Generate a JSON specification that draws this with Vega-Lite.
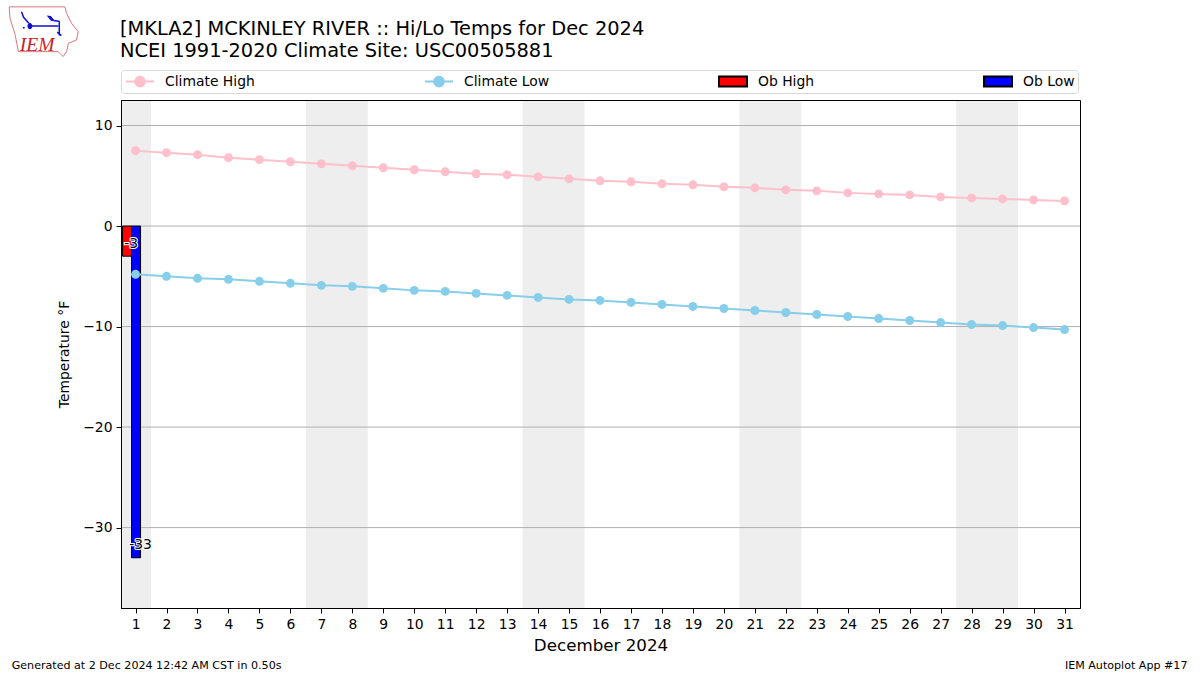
{
"$schema":"https://vega.github.io/schema/vega-lite/v6.json",
"width":959,"height":508,
"autosize":"none",
"padding":{"left":121,"top":100,"right":120,"bottom":67},
"background":"white",
"config":{"font":"DejaVu Sans","view":{"stroke":"black","strokeWidth":1}},
"title":{"text":["[MKLA2] MCKINLEY RIVER :: Hi/Lo Temps for Dec 2024","NCEI 1991-2020 Climate Site: USC00505881"],"anchor":"start","frame":"group","font":"DejaVu Sans","fontSize":19.4,"fontWeight":"normal","lineHeight":22,"offset":-57,"dx":-1,"color":"black"},
"datasets":{
"temps":[
{"day":1,"series":"Climate High","v":7.5},{"day":2,"series":"Climate High","v":7.3},{"day":3,"series":"Climate High","v":7.1},{"day":4,"series":"Climate High","v":6.8},{"day":5,"series":"Climate High","v":6.6},{"day":6,"series":"Climate High","v":6.4},{"day":7,"series":"Climate High","v":6.2},{"day":8,"series":"Climate High","v":6.0},{"day":9,"series":"Climate High","v":5.8},{"day":10,"series":"Climate High","v":5.6},{"day":11,"series":"Climate High","v":5.4},{"day":12,"series":"Climate High","v":5.2},{"day":13,"series":"Climate High","v":5.1},{"day":14,"series":"Climate High","v":4.9},{"day":15,"series":"Climate High","v":4.7},{"day":16,"series":"Climate High","v":4.5},{"day":17,"series":"Climate High","v":4.4},{"day":18,"series":"Climate High","v":4.2},{"day":19,"series":"Climate High","v":4.1},{"day":20,"series":"Climate High","v":3.9},{"day":21,"series":"Climate High","v":3.8},{"day":22,"series":"Climate High","v":3.6},{"day":23,"series":"Climate High","v":3.5},{"day":24,"series":"Climate High","v":3.3},{"day":25,"series":"Climate High","v":3.2},{"day":26,"series":"Climate High","v":3.1},{"day":27,"series":"Climate High","v":2.9},{"day":28,"series":"Climate High","v":2.8},{"day":29,"series":"Climate High","v":2.7},{"day":30,"series":"Climate High","v":2.6},{"day":31,"series":"Climate High","v":2.5},
{"day":1,"series":"Climate Low","v":-4.8},{"day":2,"series":"Climate Low","v":-5.0},{"day":3,"series":"Climate Low","v":-5.2},{"day":4,"series":"Climate Low","v":-5.3},{"day":5,"series":"Climate Low","v":-5.5},{"day":6,"series":"Climate Low","v":-5.7},{"day":7,"series":"Climate Low","v":-5.9},{"day":8,"series":"Climate Low","v":-6.0},{"day":9,"series":"Climate Low","v":-6.2},{"day":10,"series":"Climate Low","v":-6.4},{"day":11,"series":"Climate Low","v":-6.5},{"day":12,"series":"Climate Low","v":-6.7},{"day":13,"series":"Climate Low","v":-6.9},{"day":14,"series":"Climate Low","v":-7.1},{"day":15,"series":"Climate Low","v":-7.3},{"day":16,"series":"Climate Low","v":-7.4},{"day":17,"series":"Climate Low","v":-7.6},{"day":18,"series":"Climate Low","v":-7.8},{"day":19,"series":"Climate Low","v":-8.0},{"day":20,"series":"Climate Low","v":-8.2},{"day":21,"series":"Climate Low","v":-8.4},{"day":22,"series":"Climate Low","v":-8.6},{"day":23,"series":"Climate Low","v":-8.8},{"day":24,"series":"Climate Low","v":-9.0},{"day":25,"series":"Climate Low","v":-9.2},{"day":26,"series":"Climate Low","v":-9.4},{"day":27,"series":"Climate Low","v":-9.6},{"day":28,"series":"Climate Low","v":-9.8},{"day":29,"series":"Climate Low","v":-9.9},{"day":30,"series":"Climate Low","v":-10.1},{"day":31,"series":"Climate Low","v":-10.3}],
"obs":[{"day":1,"series":"Ob High","value":-3},{"day":1,"series":"Ob Low","value":-33}],
"legendkeys":[{"series":"Climate High","day":null,"v":null},{"series":"Climate Low","day":null,"v":null},{"series":"Ob High","day":null,"v":null},{"series":"Ob Low","day":null,"v":null}],
"weekends":[{"start":0.53,"end":1.5},{"start":6.5,"end":8.5},{"start":13.5,"end":15.5},{"start":20.5,"end":22.5},{"start":27.5,"end":29.5}],
"gridlines":[{"t":10},{"t":0},{"t":-10},{"t":-20},{"t":-30}]
},
"layer":[
{"data":{"name":"weekends"},"mark":{"type":"rect","color":"#eeeeee"},
 "encoding":{
  "x":{"field":"start","type":"quantitative","scale":{"domain":[0.53,31.5],"nice":false,"zero":false,"padding":0},
   "axis":{"values":[1,2,3,4,5,6,7,8,9,10,11,12,13,14,15,16,17,18,19,20,21,22,23,24,25,26,27,28,29,30,31],"tickCount":31,"grid":false,"title":"December 2024","titleFontSize":16.7,"titleFontWeight":"normal","titleColor":"black","titlePadding":7,"labelFontSize":13.9,"labelColor":"black","labelPadding":4,"labelFlush":false,"labelOverlap":false,"tickColor":"black","tickSize":5,"domainColor":"black","zindex":1}},
  "x2":{"field":"end"},
  "y":{"datum":-38,"type":"quantitative","scale":{"domain":[-38,12.54],"nice":false,"zero":false,"padding":0},
   "axis":{"values":[10,0,-10,-20,-30],"grid":false,"title":"Temperature °F","titleFontSize":13.9,"titleFontWeight":"normal","titleColor":"black","titlePadding":11,"labelFontSize":13.9,"labelColor":"black","labelPadding":4,"tickColor":"black","tickSize":5,"domainColor":"black","zindex":1,"labelExpr":"replace(datum.label,'-','−')"}},
  "y2":{"datum":12.45}}},
{"data":{"name":"gridlines"},"mark":{"type":"rule","color":"#b0b0b0","strokeWidth":1},"encoding":{"y":{"field":"t","type":"quantitative"}}},
{"data":{"name":"obs"},"mark":{"type":"bar","size":9,"xOffset":{"expr":"datum.series=='Ob High'?-8.5:0.5"},"stroke":"black","strokeWidth":1},
 "encoding":{"x":{"field":"day","type":"quantitative"},"y":{"field":"value","type":"quantitative"},"y2":{"datum":0},
  "fill":{"field":"series","type":"nominal","scale":{"domain":["Climate High","Climate Low","Ob High","Ob Low"],"range":["pink","skyblue","red","blue"]}}}},
{"data":{"name":"temps"},"mark":{"type":"line","strokeWidth":2},
 "encoding":{"x":{"field":"day","type":"quantitative"},"y":{"field":"v","type":"quantitative"},
  "stroke":{"field":"series","type":"nominal","scale":{"domain":["Climate High","Climate Low","Ob High","Ob Low"],"range":["pink","skyblue","black","black"]}}}},
{"data":{"name":"temps"},"mark":{"type":"point","filled":true,"size":80,"opacity":1},
 "encoding":{"x":{"field":"day","type":"quantitative"},"y":{"field":"v","type":"quantitative"},
  "fill":{"field":"series","type":"nominal"}}},
{"data":{"name":"legendkeys"},"mark":{"type":"point","opacity":1},
 "encoding":{"x":{"field":"day","type":"quantitative"},"y":{"field":"v","type":"quantitative"},
  "fill":{"field":"series","type":"nominal","legend":{"orient":"none","legendX":0,"legendY":-30,"title":null,"columns":4,"gridAlign":"each","columnPadding":165,"padding":2.5,"symbolSize":256,"symbolOffset":7.5,"labelOffset":16,"labelFontSize":13.9,"labelColor":"black","labelLimit":200,"strokeColor":"#d8d8d8","cornerRadius":3,"fillColor":"white"}},
  "stroke":{"field":"series","type":"nominal","legend":{"orient":"none","legendX":0,"legendY":-30,"title":null}},
  "strokeWidth":{"field":"series","type":"ordinal","scale":{"domain":["Climate High","Climate Low","Ob High","Ob Low"],"range":[2,2,1,1]},"legend":{"orient":"none","legendX":0,"legendY":-30,"title":null}},
  "shape":{"field":"series","type":"nominal","scale":{"domain":["Climate High","Climate Low","Ob High","Ob Low"],"range":["M-1.75,0H1.75M-0.6,0A0.6,0.6 0 1,0 0.6,0A0.6,0.6 0 1,0 -0.6,0Z","M-1.75,0H1.75M-0.6,0A0.6,0.6 0 1,0 0.6,0A0.6,0.6 0 1,0 -0.6,0Z","M-1.75,-0.625H1.75V0.625H-1.75Z","M-1.75,-0.625H1.75V0.625H-1.75Z"]},"legend":{"orient":"none","legendX":0,"legendY":-30,"title":null}}}},
{"data":{"name":"obs"},"mark":{"type":"text","fontSize":13.9,"dy":-12.5,"stroke":"white","strokeWidth":2,"xOffset":{"expr":"datum.series=='Ob High'?-4.5:5"}},
 "encoding":{"x":{"field":"day","type":"quantitative"},"y":{"field":"value","type":"quantitative"},"text":{"field":"value","type":"nominal"}}},
{"data":{"name":"obs"},"mark":{"type":"text","fontSize":13.9,"dy":-12.5,"color":"black","xOffset":{"expr":"datum.series=='Ob High'?-4.5:5"}},
 "encoding":{"x":{"field":"day","type":"quantitative"},"y":{"field":"value","type":"quantitative"},"text":{"field":"value","type":"nominal"}}},
{"data":{"values":[{"note":"Generated at 2 Dec 2024 12:42 AM CST in 0.50s"}]},"mark":{"type":"text","align":"left","fontSize":11.1,"color":"black","clip":false},
 "encoding":{"x":{"datum":-3},"y":{"datum":-43.77},"text":{"field":"note"}}},
{"data":{"values":[{"note":"IEM Autoplot App #17"}]},"mark":{"type":"text","align":"right","fontSize":11.1,"color":"black","clip":false},
 "encoding":{"x":{"datum":34.97},"y":{"datum":-43.77},"text":{"field":"note"}}},
{"data":{"values":[{"part":"outline"}]},"mark":{"type":"point","size":4900,"filled":false,"strokeWidth":1,"opacity":1,"color":"#dd7777","shape":"M-0.99,-0.72L0.6,-0.72L0.65,-0.53L0.79,-0.25L0.98,-0.01L0.93,0.23L0.7,0.32L0.65,0.56L0.55,0.7L0.41,0.56L-0.73,0.56L-0.83,0.04L-0.97,-0.39Z"},
 "encoding":{"x":{"datum":-1.96},"y":{"datum":19.3}}},
{"data":{"values":[{"part":"rivers"}]},"mark":{"type":"point","size":4900,"filled":false,"strokeWidth":1.5,"opacity":1,"color":"#1111cc","shape":"M-0.4,-0.17L0.41,-0.17M0.3,-0.33L0.45,-0.3M0.44,-0.3L0.44,0.1M0.38,0L0.5,0.1M-0.64,-0.58L-0.58,-0.42L-0.43,-0.25M-0.4,-0.25L-0.4,-0.1M-0.6,-0.12L-0.55,-0.12"},
 "encoding":{"x":{"datum":-1.96},"y":{"datum":19.3}}},
{"data":{"values":[{"part":"lakes"}]},"mark":{"type":"point","size":4900,"filled":true,"opacity":1,"color":"#1111cc","shape":"M0.08,-0.47L0.2,-0.46L0.33,-0.3L0.2,-0.32ZM-0.47,-0.17A0.07,0.09 0 1,0 -0.33,-0.17A0.07,0.09 0 1,0 -0.47,-0.17Z"},
 "encoding":{"x":{"datum":-1.96},"y":{"datum":19.3}}},
{"data":{"values":[{"note":"IEM"}]},"mark":{"type":"text","font":"Liberation Serif","fontStyle":"italic","fontSize":19.5,"color":"#cc2222","clip":false},
 "encoding":{"x":{"datum":-2.18},"y":{"datum":18},"text":{"field":"note"}}}
]
}
